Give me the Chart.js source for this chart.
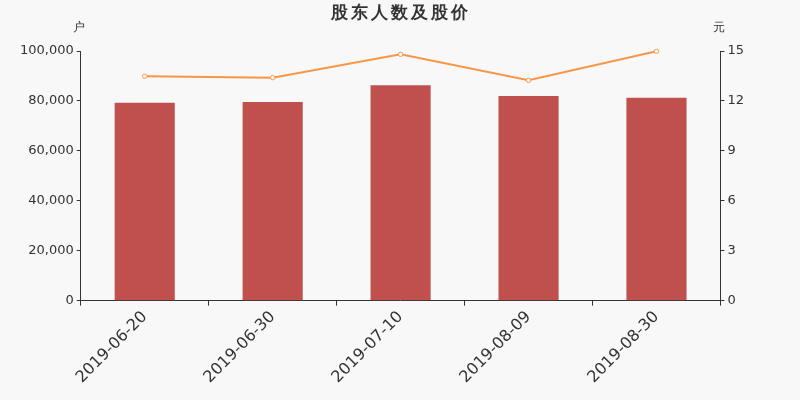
<!DOCTYPE html>
<html>
<head>
<meta charset="utf-8">
<script src="https://cdn.jsdelivr.net/npm/chart.js@4"></script>
<style>
  html, body { margin: 0; padding: 0; background: #f8f8f8; }
  #wrap { width: 800px; height: 400px; }
</style>
</head>
<body>
<div id="wrap"><canvas id="chart" width="800" height="400"></canvas></div>
<script>
// data
const dates = ['2019-06-20', '2019-06-30', '2019-07-10', '2019-08-09', '2019-08-30'];
const holders = [79300, 79600, 86300, 82000, 81300];
const prices = [13.48, 13.4, 14.8, 13.24, 14.98];

const leftTicks = [0, 20000, 40000, 60000, 80000, 100000];
const rightTicks = [0, 3, 6, 9, 12, 15];

const textColor = '#333';
const axisColor = '#333';

// title and unit labels drawn by hand (letter spaced title)
const headerText = {
    id: 'headerText',
    afterDraw(c) {
        const ctx = c.ctx;
        const a = c.chartArea;
        ctx.save();
        ctx.fillStyle = textColor;
        ctx.textBaseline = 'middle';
        ctx.textAlign = 'center';
        ctx.font = 'bold 17px "DejaVu Sans"';
        ctx.letterSpacing = '3px';
        ctx.fillText('股东人数及股价', 401, 14);
        ctx.letterSpacing = '0px';
        ctx.font = '12px "DejaVu Sans"';
        ctx.fillText('户', a.left - 2, 28);
        ctx.fillText('元', a.right - 1, 28);
        ctx.restore();
    }
};

Chart.defaults.font.family = '"DejaVu Sans", sans-serif';
Chart.defaults.color = textColor;

new Chart(document.getElementById('chart').getContext('2d'), {
    data: {
        labels: dates,
        datasets: [
            {
                type: 'line',
                label: '股价',
                data: prices,
                yAxisID: 'y1',
                borderColor: '#f79646',
                borderWidth: 2,
                pointRadius: 2.2,
                pointBorderWidth: 1,
                pointBackgroundColor: '#fff',
                pointBorderColor: '#f79646',
                tension: 0,
                clip: false,
                order: 0
            },
            {
                type: 'bar',
                label: '股东人数',
                data: holders,
                yAxisID: 'y',
                backgroundColor: '#c0504d',
                barPercentage: 0.47,
                categoryPercentage: 1,
                order: 1
            }
        ]
    },
    options: {
        responsive: false,
        animation: false,
        devicePixelRatio: 1,
        layout: { padding: { left: 17, right: 53, top: 51, bottom: 11 } },
        plugins: {
            legend: { display: false },
            tooltip: { enabled: false },
            title: { display: false }
        },
        scales: {
            x: {
                offset: true,
                grid: { offset: true, drawOnChartArea: false, color: axisColor, tickLength: 5 },
                border: { color: axisColor, width: 1 },
                ticks: { maxRotation: 45, minRotation: 45, font: { size: 16 }, color: textColor, padding: 2 }
            },
            y: {
                position: 'left',
                min: 0,
                max: 100000,
                afterBuildTicks(s) { s.ticks = leftTicks.map(v => ({ value: v })); },
                grid: { drawOnChartArea: false, color: axisColor, tickLength: 4 },
                border: { color: axisColor, width: 1 },
                ticks: {
                    font: { size: 13 },
                    color: textColor,
                    padding: 3,
                    callback: v => v.toLocaleString('en-US')
                }
            },
            y1: {
                position: 'right',
                min: 0,
                max: 15,
                afterBuildTicks(s) { s.ticks = rightTicks.map(v => ({ value: v })); },
                grid: { drawOnChartArea: false, color: axisColor, tickLength: 4 },
                border: { color: axisColor, width: 1 },
                ticks: { font: { size: 13 }, color: textColor, padding: 3 }
            }
        }
    },
    plugins: [headerText]
});
</script>
</body>
</html>
